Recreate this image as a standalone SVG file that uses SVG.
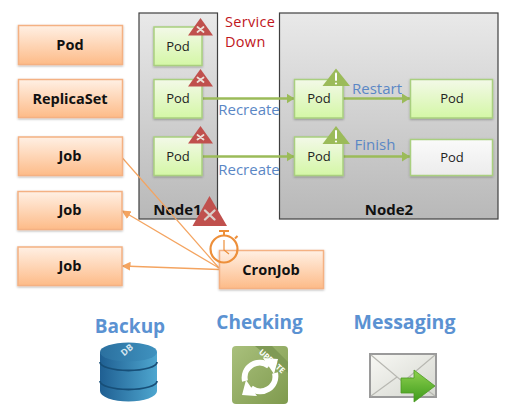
<svg xmlns="http://www.w3.org/2000/svg" width="516" height="410" viewBox="0 0 516 410">
<style>
text{font-family:"Open Sans","Noto Sans","DejaVu Sans",sans-serif;text-anchor:middle}
.o{fill:url(#og);stroke:#f4b183;stroke-width:1.5}
.p{fill:url(#pg);stroke:#a9cf7f;stroke-width:1.5}
.n{stroke:#404040;stroke-width:1.2}
.ot{font-size:14.5px;font-weight:700;fill:#111}
.pt{font-size:13px;fill:#222}
.bl{font-size:15px;fill:#5b87c5}
.hd{font-weight:700;fill:#5b92d2}
.r{fill:#c0504d}.x{stroke:#ece0d8;stroke-width:1.8;stroke-linecap:round}
.w{fill:#9bbb59}.ex{stroke:#fff;stroke-width:2;stroke-linecap:round}
.gl{stroke:#9bbb59;stroke-width:2.5;fill:none;marker-end:url(#ga)}
.ol{stroke:#f4a460;stroke-width:1.2;fill:none}
.ar{marker-end:url(#oa);stroke-width:1.3}
.sv{font-size:14.5px;letter-spacing:.3px;fill:#c0161c;text-anchor:start}
</style>
<defs>
<linearGradient id="og" x1="0" y1="0" x2="0" y2="1"><stop offset="0" stop-color="#fff0e4"/><stop offset="1" stop-color="#fdbb88"/></linearGradient>
<linearGradient id="pg" x1="0" y1="0" x2="0" y2="1"><stop offset="0" stop-color="#f3f9e8"/><stop offset="1" stop-color="#d4f7a6"/></linearGradient>
<linearGradient id="ng" x1="0" y1="0" x2="0" y2="1"><stop offset="0" stop-color="#e9e9e9"/><stop offset="1" stop-color="#b8b8b8"/></linearGradient>
<linearGradient id="wg" x1="0" y1="0" x2="0" y2="1"><stop offset="0" stop-color="#fafafa"/><stop offset="1" stop-color="#ececec"/></linearGradient>
<linearGradient id="db" x1="0" y1="0" x2="1" y2="0"><stop offset="0" stop-color="#1f5f92"/><stop offset="1" stop-color="#4ea6cf"/></linearGradient>
<linearGradient id="dt" x1="0" y1="0" x2="1" y2="0"><stop offset="0" stop-color="#2b709f"/><stop offset="1" stop-color="#3f92bf"/></linearGradient>
<linearGradient id="up" x1="0" y1="0" x2="1" y2="1"><stop offset="0" stop-color="#a9c07c"/><stop offset="1" stop-color="#7f9a4e"/></linearGradient>
<linearGradient id="ar" x1="0" y1="0" x2="0" y2="1"><stop offset="0" stop-color="#8fd14f"/><stop offset="1" stop-color="#3d9a1c"/></linearGradient>
<linearGradient id="en" x1="0" y1="0" x2="1" y2="1"><stop offset="0" stop-color="#f8f8f4"/><stop offset="1" stop-color="#d5d7d0"/></linearGradient>
<marker id="ga" markerUnits="userSpaceOnUse" markerWidth="9" markerHeight="10" refX="8" refY="5" orient="auto"><path d="M0 0L8 5L0 10Z" fill="#9bbb59"/></marker>
<marker id="oa" markerUnits="userSpaceOnUse" markerWidth="9" markerHeight="9" refX="8" refY="4.5" orient="auto"><path d="M0 0L9 4.500L0 9Z" fill="#f4a460"/></marker>
<filter id="s" x="-10%" y="-10%" width="120%" height="130%"><feDropShadow dx="0" dy="1" stdDeviation="0.8" flood-color="#000" flood-opacity=".3"/></filter>
</defs>

<g id="node1"><rect class="n" x="139" y="13" width="78.5" height="206" fill="url(#ng)"/><text x="177.500" y="215" font-size="15" font-weight="700" fill="#111">Node1</text></g>
<g id="node2"><rect class="n" x="279.5" y="13" width="218.5" height="206" fill="url(#ng)"/><text x="389" y="215" font-size="15" font-weight="700" fill="#111">Node2</text></g>

<g id="connectors">
<path class="gl" d="M203 98.5H294.5"/>
<path class="gl" d="M203 156.5H294.5"/>
<path class="gl" d="M343 98.5H410"/>
<path class="gl" d="M343 156.5H410"/>
<path class="ol" d="M122.5 158L219 268"/>
<path class="ol ar" d="M219 268L122.500 211"/>
<path class="ol ar" d="M219 269.500L122.500 266"/>
</g>

<g id="left-pod"><rect class="o" x="18.500" y="25.500" width="104" height="39" filter="url(#s)"/><text class="ot" x="70" y="50">Pod</text></g>
<g id="left-replicaset"><rect class="o" x="18.500" y="79.500" width="104" height="38" filter="url(#s)"/><text class="ot" x="70" y="103.500">ReplicaSet</text></g>
<g id="left-job1"><rect class="o" x="18.500" y="137" width="104" height="38.500" filter="url(#s)"/><text class="ot" x="70" y="161">Job</text></g>
<g id="left-job2"><rect class="o" x="18" y="191.500" width="104" height="38" filter="url(#s)"/><text class="ot" x="70" y="215">Job</text></g>
<g id="left-job3"><rect class="o" x="18" y="247" width="104" height="38.500" filter="url(#s)"/><text class="ot" x="70" y="271">Job</text></g>

<g id="pod-a"><rect class="p" x="154" y="27" width="48" height="38.500" filter="url(#s)"/><text class="pt" x="178" y="50.500">Pod</text></g>
<g id="pod-b"><rect class="p" x="154" y="79.500" width="48" height="38.500" filter="url(#s)"/><text class="pt" x="178" y="103">Pod</text></g>
<g id="pod-c"><rect class="p" x="154" y="137" width="48" height="38.500" filter="url(#s)"/><text class="pt" x="178" y="160.500">Pod</text></g>
<g id="pod-d"><rect class="p" x="294.500" y="79.500" width="48.500" height="38.500" filter="url(#s)"/><text class="pt" x="319" y="103">Pod</text></g>
<g id="pod-e"><rect class="p" x="294.500" y="137" width="48.500" height="38.500" filter="url(#s)"/><text class="pt" x="319" y="160.500">Pod</text></g>
<g id="pod-f"><rect class="p" x="410.500" y="79.500" width="82" height="38.500" filter="url(#s)"/><text class="pt" x="452" y="103">Pod</text></g>
<g id="pod-g"><rect x="410.500" y="139.500" width="82" height="36" fill="url(#wg)" stroke="#a9cf7f" stroke-width="1.500" filter="url(#s)"/><text class="pt" x="452" y="162">Pod</text></g>

<g id="alert-1"><path class="r" d="M200.500 18L213 35.500H188Z"/><path class="x" d="M197.500 27L203.500 32M203.500 27L197.500 32"/></g>
<g id="alert-2"><path class="r" d="M200.500 69L213 86.500H188Z"/><path class="x" d="M197.500 77.500L203.500 82M203.500 77.500L197.500 82"/></g>
<g id="alert-3"><path class="r" d="M200.500 126L213 143.500H188Z"/><path class="x" d="M197.500 135L203.500 139.500M203.500 135L197.500 139.500"/></g>
<g id="alert-4"><path class="r" d="M209.500 196L227 226H192.500Z"/><path d="M205 210.500L214.500 219.500M214.500 210.500L205 219.500" stroke="#d9cfc9" stroke-width="2.400" stroke-linecap="round"/></g>
<g id="warn-1"><path class="w" d="M336 68.500L350 86H322.500Z"/><path class="ex" d="M336 73.500V80"/><circle cx="336" cy="83.500" r="1.100" fill="#fff"/></g>
<g id="warn-2"><path class="w" d="M336 126L350 144H322.500Z"/><path class="ex" d="M336 131V138"/><circle cx="336" cy="141.500" r="1.100" fill="#fff"/></g>

<g id="labels">
<text class="sv" x="225" y="26.500">Service</text>
<text class="sv" x="225" y="46.500">Down</text>
<text class="bl" x="249" y="115">Recreate</text>
<text class="bl" x="249" y="175">Recreate</text>
<text class="bl" x="377" y="93.500">Restart</text>
<text class="bl" x="375" y="149.500">Finish</text>
<text class="hd" font-size="19" x="130" y="333">Backup</text>
<text class="hd" font-size="19" x="259.500" y="329">Checking</text>
<text class="hd" font-size="19.500" x="404.500" y="329">Messaging</text>
</g>

<g id="cronjob"><rect class="o" x="219.500" y="250.500" width="104" height="38" filter="url(#s)"/><text class="ot" x="271" y="274.500">CronJob</text></g>

<g id="clock" fill="none" stroke="#ed8f3a">
<circle cx="224" cy="249" r="13.500" stroke-width="2.200"/>
<path d="M219 231H229M224 231V235.500M235 238.500L237.500 236" stroke-width="2"/>
<path d="M224 240V250L229 254" stroke-width="1.200"/>
</g>

<g id="icon-db">
<path d="M100 352V391A28.500 10.500 0 0 0 157 391V352Z" fill="url(#db)"/>
<ellipse cx="128.500" cy="352" rx="28.500" ry="9.500" fill="url(#dt)"/>
<path d="M100 362A28.500 8.500 0 0 0 157 362" fill="none" stroke="#174f78" stroke-width="1.800"/>
<path d="M100 381A28.500 8.500 0 0 0 157 381" fill="none" stroke="#174f78" stroke-width="1.800"/>
<text transform="translate(127 350) rotate(-40)" y="3" font-size="9" font-weight="700" fill="#d5e6f0">DB</text>
</g>

<g id="icon-update">
<path d="M236 346H284Q288 346 288 350V400Q288 404 284 404H236Q232 404 232 400V350Q232 346 236 346Z" fill="url(#up)"/>
<path d="M255 346H272L288 362V373Z" fill="#7f9a55"/>
<text transform="translate(272 361) rotate(42)" y="3" font-size="8" font-weight="700" fill="#fff">UPDATE</text>
<g fill="none" stroke="#fff" stroke-width="6">
<path d="M245 381A15 15 0 0 1 269 366"/>
<path d="M275 373A15 15 0 0 1 251 388"/>
</g>
<path d="M263 358L278 359L274 374Z" fill="#fff"/>
<path d="M257 396L242 395L246 380Z" fill="#fff"/>
</g>

<g id="icon-mail">
<rect x="370" y="354" width="66" height="43" fill="url(#en)" stroke="#9a9a9a" stroke-width="2"/>
<path d="M371 355L403 382L435 355M371 396L397 377M435 396L410 377" fill="none" stroke="#b8b8b2" stroke-width="1.200"/>
<path d="M401 378H414V370L435 386L414 402V393H401Z" fill="url(#ar)" stroke="#4b9a22" stroke-width=".8"/>
</g>
</svg>
